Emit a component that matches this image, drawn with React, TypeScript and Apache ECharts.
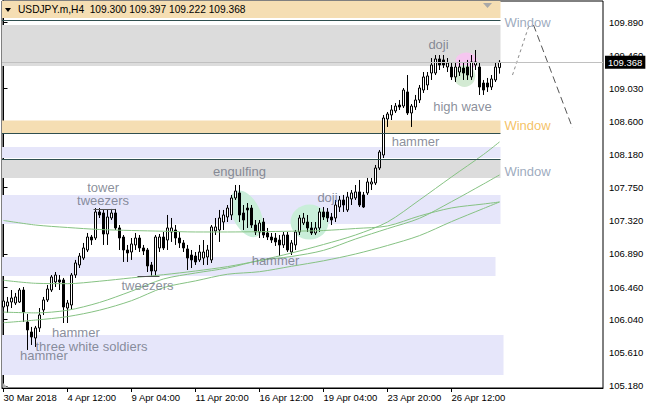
import React, { useEffect, useRef } from 'react';
import * as echarts from 'echarts';

const FONT = '"Liberation Sans", Arial, sans-serif';

// x tick labels (bar index -> label)
const xTickIndex = [0, 16, 32, 48, 64, 80, 96, 112];
const xTickLabels = ['30 Mar 2018', '4 Apr 12:00', '9 Apr 04:00', '11 Apr 20:00', '16 Apr 12:00', '19 Apr 04:00', '23 Apr 20:00', '26 Apr 12:00'];

// y tick labels
const yTicks = [105.18, 105.61, 106.04, 106.46, 106.89, 107.32, 107.75, 108.18, 108.6, 109.03, 109.46, 109.89];

// H4 candles: [open, close, low, high]
const candles: number[][] = [
  [106.202, 106.280, 106.164, 106.397],
  [106.215, 106.267, 106.125, 106.332],
  [106.267, 106.319, 106.189, 106.422],
  [106.254, 106.332, 106.228, 106.384],
  [106.267, 106.422, 106.254, 106.448],
  [106.422, 106.138, 106.008, 106.461],
  [106.008, 105.905, 105.646, 106.112],
  [105.879, 105.814, 105.711, 105.944],
  [105.801, 105.931, 105.685, 105.957],
  [105.931, 106.099, 105.879, 106.189],
  [106.164, 106.293, 106.099, 106.332],
  [106.293, 106.435, 106.267, 106.487],
  [106.422, 106.591, 106.397, 106.616],
  [106.526, 106.616, 106.461, 106.655],
  [106.552, 106.526, 106.422, 106.616],
  [106.552, 106.202, 105.995, 106.578],
  [106.189, 106.254, 105.995, 106.293],
  [106.228, 106.616, 106.164, 106.642],
  [106.616, 106.772, 106.578, 106.811],
  [106.746, 106.862, 106.707, 106.901],
  [106.836, 106.966, 106.811, 107.031],
  [106.940, 107.108, 106.914, 107.160],
  [107.108, 107.069, 107.005, 107.134],
  [107.095, 107.432, 107.069, 107.483],
  [107.432, 107.393, 107.354, 107.483],
  [107.419, 107.147, 107.005, 107.458],
  [107.147, 107.367, 107.005, 107.458],
  [107.354, 107.419, 107.328, 107.471],
  [107.419, 107.225, 107.199, 107.471],
  [107.225, 107.095, 106.940, 107.263],
  [107.108, 106.940, 106.785, 107.134],
  [106.940, 106.901, 106.785, 107.005],
  [106.914, 107.018, 106.811, 107.095],
  [107.005, 107.095, 106.940, 107.160],
  [107.095, 106.966, 106.914, 107.134],
  [106.966, 106.927, 106.875, 107.005],
  [106.940, 106.733, 106.655, 106.966],
  [106.746, 106.668, 106.604, 106.785],
  [106.668, 107.108, 106.604, 107.134],
  [106.966, 107.108, 106.914, 107.147],
  [107.108, 106.966, 106.940, 107.173],
  [107.069, 107.225, 106.940, 107.393],
  [107.173, 107.225, 107.044, 107.354],
  [107.199, 107.095, 107.005, 107.263],
  [107.095, 107.031, 106.966, 107.173],
  [107.031, 106.966, 106.914, 107.069],
  [106.953, 106.836, 106.681, 107.005],
  [106.875, 106.811, 106.707, 106.940],
  [106.862, 106.785, 106.746, 106.914],
  [106.811, 106.914, 106.785, 107.005],
  [106.836, 106.914, 106.746, 107.069],
  [106.849, 106.940, 106.746, 107.005],
  [106.811, 107.238, 106.772, 107.263],
  [107.186, 107.238, 107.134, 107.354],
  [107.199, 107.354, 107.044, 107.458],
  [107.302, 107.393, 107.199, 107.458],
  [107.367, 107.483, 107.302, 107.522],
  [107.393, 107.613, 107.328, 107.652],
  [107.613, 107.703, 107.587, 107.781],
  [107.678, 107.393, 107.302, 107.781],
  [107.419, 107.328, 107.199, 107.522],
  [107.483, 107.458, 107.225, 107.548],
  [107.483, 107.263, 107.225, 107.522],
  [107.263, 107.173, 107.134, 107.328],
  [107.173, 107.289, 107.095, 107.328],
  [107.302, 107.134, 107.095, 107.354],
  [107.160, 107.108, 107.069, 107.225],
  [107.108, 107.069, 107.031, 107.160],
  [107.095, 107.044, 106.992, 107.160],
  [107.069, 107.005, 106.862, 107.134],
  [107.005, 107.134, 106.966, 107.173],
  [107.134, 106.940, 106.914, 107.173],
  [106.914, 107.031, 106.875, 107.069],
  [107.005, 107.173, 106.940, 107.199],
  [107.173, 107.354, 107.134, 107.393],
  [107.289, 107.354, 107.263, 107.419],
  [107.302, 107.225, 107.173, 107.393],
  [107.225, 107.160, 107.134, 107.302],
  [107.160, 107.225, 107.134, 107.302],
  [107.225, 107.432, 107.173, 107.483],
  [107.432, 107.367, 107.328, 107.496],
  [107.432, 107.354, 107.302, 107.483],
  [107.367, 107.328, 107.263, 107.419],
  [107.354, 107.522, 107.302, 107.587],
  [107.496, 107.587, 107.432, 107.639],
  [107.587, 107.522, 107.432, 107.652],
  [107.458, 107.626, 107.432, 107.691],
  [107.600, 107.678, 107.522, 107.716],
  [107.613, 107.691, 107.587, 107.781],
  [107.691, 107.522, 107.496, 107.846],
  [107.652, 107.496, 107.483, 107.691],
  [107.678, 107.820, 107.652, 107.872],
  [107.794, 107.820, 107.716, 107.872],
  [107.807, 108.001, 107.781, 108.040],
  [108.001, 108.208, 107.975, 108.234],
  [108.169, 108.648, 108.130, 108.687],
  [108.635, 108.700, 108.532, 108.726],
  [108.687, 108.752, 108.622, 108.816],
  [108.739, 108.803, 108.713, 108.842],
  [108.816, 108.790, 108.752, 108.881],
  [108.803, 109.010, 108.777, 109.036],
  [108.985, 108.713, 108.687, 109.204],
  [108.713, 108.803, 108.532, 108.829],
  [108.790, 108.881, 108.752, 108.946],
  [108.881, 109.036, 108.842, 109.075],
  [109.010, 109.179, 108.972, 109.243],
  [109.075, 109.192, 109.010, 109.243],
  [109.230, 109.334, 109.140, 109.424],
  [109.230, 109.412, 109.204, 109.463],
  [109.412, 109.334, 109.269, 109.463],
  [109.399, 109.334, 109.295, 109.463],
  [109.308, 109.360, 109.243, 109.424],
  [109.308, 109.179, 109.140, 109.360],
  [109.179, 109.308, 109.114, 109.373],
  [109.243, 109.308, 109.192, 109.399],
  [109.295, 109.230, 109.140, 109.360],
  [109.308, 109.204, 109.140, 109.399],
  [109.179, 109.373, 109.140, 109.463],
  [109.334, 109.373, 109.269, 109.528],
  [109.308, 109.049, 108.946, 109.360],
  [109.101, 109.010, 108.946, 109.140],
  [109.101, 109.049, 108.985, 109.166],
  [109.049, 109.153, 109.010, 109.204],
  [109.140, 109.308, 109.114, 109.360],
  [109.300, 109.368, 109.222, 109.397],
];

// moving averages read at these bar indices
const maIdx = [0, 8, 16, 24, 32, 40, 48, 56, 64, 72, 80, 88, 96, 104, 112, 120, 124];
const maA = [106.548, 106.509, 106.504, 106.536, 106.579, 106.620, 106.668, 106.725, 106.804, 106.901, 107.011, 107.134, 107.302, 107.587, 107.885, 108.176, 108.338];
const maB = [106.136, 106.126, 106.160, 106.261, 106.407, 106.565, 106.642, 106.707, 106.803, 106.856, 106.935, 107.082, 107.216, 107.350, 107.565, 107.794, 107.911];
const maC = [107.322, 107.263, 107.231, 107.205, 107.192, 107.183, 107.173, 107.173, 107.177, 107.183, 107.192, 107.218, 107.251, 107.380, 107.484, 107.535, 107.561];
const maD = [105.999, 106.033, 106.078, 106.161, 106.284, 106.453, 106.540, 106.626, 106.659, 106.729, 106.800, 106.888, 106.998, 107.126, 107.307, 107.477, 107.561];

const lastPrice = 109.368;

const X_MIN = -0.375;
const X_MAX = 149.875;

// annotation zones (price bands), right edge in bar index
const zones = [
  { top: 110.162, bottom: 109.942, right: 124.25, color: '#F5DEB3' },
  { top: 109.852, bottom: 109.321, right: 124.25, color: '#DCDCDC' },
  { top: 108.616, bottom: 108.454, right: 124.25, color: '#F5DEB3' },
  { top: 108.273, bottom: 108.131, right: 124.25, color: '#E6E6FA' },
  { top: 108.111, bottom: 107.872, right: 124.25, color: '#DCDCDC' },
  { top: 107.652, bottom: 107.276, right: 124.25, color: '#E6E6FA' },
  { top: 106.849, bottom: 106.604, right: 123, color: '#E6E6FA' },
  { top: 105.840, bottom: 105.323, right: 125, color: '#E6E6FA' },
];
const levelLines = [109.910, 108.450, 108.118];

const ellipses = [
  { x: 60.75, y: 107.406, rx: 3.5, ry: 0.3235, rot: 0.45, color: '#c9eed9' },
  { x: 76.5, y: 107.302, rx: 4.75, ry: 0.2265, rot: 0, color: '#c9eed9' },
  { x: 115.75, y: 109.386, rx: 2.75, ry: 0.11, rot: 0, color: '#f6c6f0' },
  { x: 115.25, y: 109.192, rx: 2.7, ry: 0.142, rot: 0, color: '#d3ead3' },
];

const notes = [
  { t: 'doji', x: 108.75, y: 109.593 },
  { t: 'high wave', x: 114.75, y: 108.803 },
  { t: 'hammer', x: 103, y: 108.338 },
  { t: 'engulfing', x: 59, y: 107.962 },
  { t: 'doji', x: 81, y: 107.613 },
  { t: 'tower\ntweezers', x: 24.9, y: 107.665 },
  { t: 'hammer', x: 68, y: 106.798 },
  { t: 'tweezers', x: 36, y: 106.474 },
  { t: 'hammer', x: 18.1, y: 105.866 },
  { t: 'three white soldiers', x: 22, y: 105.685 },
  { t: 'hammer', x: 10.1, y: 105.575 },
  { t: 'Window', x: 131, y: 109.884, c: '#8494ad' },
  { t: 'Window', x: 131, y: 108.551, c: '#f2b23c' },
  { t: 'Window', x: 131, y: 107.956, c: '#8494ad' },
];

export default function App() {
  const ref = useRef<HTMLDivElement>(null);
  useEffect(() => {
    const chart = echarts.init(ref.current!, null, { renderer: 'svg' });
    const last = candles[candles.length - 1];
    const header = `USDJPY.m,H4  ${last[0].toFixed(3)} ${last[3].toFixed(3)} ${last[2].toFixed(3)} ${last[1].toFixed(3)}`;
    const maSeries = [maA, maB, maC, maD].map((arr) => ({
      type: 'line',
      z: 4,
      silent: true,
      data: maIdx.map((x, k) => [x, arr[k]]),
      showSymbol: false,
      smooth: 0.3,
      lineStyle: { color: '#86c283', width: 1 },
    }));
    const option: any = {
      animation: false,
      backgroundColor: '#ffffff',
      textStyle: { fontFamily: FONT },
      grid: { left: 2, right: 44, top: 1, bottom: 20, show: true, borderColor: '#000', borderWidth: 1, backgroundColor: '#fff' },
      xAxis: {
        type: 'value', min: X_MIN, max: X_MAX,
        axisLine: { show: true, lineStyle: { color: '#000' } },
        axisTick: { show: true, length: 4, customValues: xTickIndex, lineStyle: { color: '#000' } },
        axisLabel: {
          customValues: xTickIndex,
          formatter: (v: number) => xTickLabels[xTickIndex.indexOf(v)] ?? '',
          align: 'left', margin: 4, fontSize: 9.5, color: '#000', fontFamily: FONT,
        },
        splitLine: { show: false },
      },
      yAxis: {
        type: 'value', min: 105.154, max: 110.162, position: 'right',
        axisLine: { show: true, lineStyle: { color: '#000' } },
        axisTick: { show: true, length: 4, customValues: yTicks, lineStyle: { color: '#000' } },
        axisLabel: {
          customValues: yTicks,
          formatter: (v: number) => v.toFixed(3),
          margin: 6, fontSize: 9.5, color: '#000', fontFamily: FONT,
        },
        splitLine: { show: false },
      },
      graphic: [
        { type: 'polygon', shape: { points: [[5, 8], [11, 8], [8, 12]] }, style: { fill: '#000' }, z: 10 },
        { type: 'text', x: 18, y: 4, style: { text: header, fontSize: 10.2, fontFamily: FONT, fill: '#000' }, z: 10 },
        { type: 'polygon', shape: { points: [[483, 3], [492, 3], [487.5, 8]] }, style: { fill: '#a8a8a8' }, z: 10 },
        { type: 'polygon', shape: { points: [[3, 383], [3, 388], [8, 388]] }, style: { fill: '#b0b0b0' }, z: 10 },
      ],
      series: [
        {
          type: 'candlestick',
          z: 3,
          silent: true,
          barWidth: 2,
          data: candles.map((c, i) => [i, c[0], c[1], c[2], c[3]]),
          encode: { x: 0, y: [1, 2, 3, 4] },
          itemStyle: { color: '#ffffff', color0: '#000000', borderColor: '#000000', borderColor0: '#000000', borderWidth: 1 },
          markArea: {
            silent: true,
            data: zones.map((zn) => [
              { xAxis: X_MIN, yAxis: zn.top, itemStyle: { color: zn.color } },
              { xAxis: zn.right, yAxis: zn.bottom },
            ]),
          },
          markLine: {
            silent: true,
            symbol: ['none', 'none'],
            label: { show: false },
            data: [
              ...levelLines.map((lv) => [
                { xAxis: X_MIN, yAxis: lv, lineStyle: { color: '#2F4F4F', width: 1, type: 'solid' } },
                { xAxis: 124.25, yAxis: lv },
              ]),
              [
                { xAxis: 22.5, yAxis: 107.471, lineStyle: { color: '#505050', width: 1, type: 'solid' } },
                { xAxis: 28, yAxis: 107.471 },
              ],
              [
                { xAxis: 33.5, yAxis: 106.604, lineStyle: { color: '#505050', width: 1, type: 'solid' } },
                { xAxis: 39, yAxis: 106.604 },
              ],
              {
                yAxis: lastPrice,
                lineStyle: { color: '#c0c0c0', width: 1, type: 'solid' },
                label: {
                  show: true, position: 'end', distance: 2,
                  formatter: lastPrice.toFixed(3),
                  backgroundColor: '#000', color: '#fff', padding: [2, 3, 1, 3],
                  fontSize: 9.5, fontFamily: FONT,
                },
              },
            ],
          },
        },
        {
          type: 'custom',
          z: 2,
          silent: true,
          data: ellipses.map((e) => [e.x, e.y]),
          encode: { x: 0, y: 1 },
          renderItem: (params: any, api: any) => {
            const e = ellipses[params.dataIndex];
            const c = api.coord([e.x, e.y]);
            const s = api.size([e.rx, e.ry], [e.x, e.y]);
            return {
              type: 'ellipse',
              shape: { cx: c[0], cy: c[1], rx: s[0], ry: s[1] },
              rotation: e.rot, originX: c[0], originY: c[1],
              style: { fill: e.color },
            };
          },
        },
        ...maSeries,
        {
          type: 'line', z: 4, silent: true, showSymbol: false,
          data: [[127.25, 109.204], [131.25, 109.826]],
          lineStyle: { color: '#8a8a8a', width: 1, type: [3, 3] },
        },
        {
          type: 'line', z: 4, silent: true, showSymbol: false,
          data: [[132.5, 109.852], [142.25, 108.519]],
          lineStyle: { color: '#555555', width: 1, type: [7, 4] },
        },
        {
          type: 'scatter', z: 6, silent: true,
          symbolSize: 1,
          itemStyle: { color: 'rgba(0,0,0,0)' },
          data: notes.map((n) => ({ name: n.t, value: [n.x, n.y], label: { color: n.c ?? '#6d7282' } })),
          label: { show: true, position: 'inside', formatter: '{b}', fontSize: 13, lineHeight: 13, fontFamily: FONT },
        },
      ],
    };
    chart.setOption(option);
    return () => chart.dispose();
  }, []);
  return <div ref={ref} style={{ position: 'absolute', left: 0, top: 0, width: 647, height: 408 }} />;
}
